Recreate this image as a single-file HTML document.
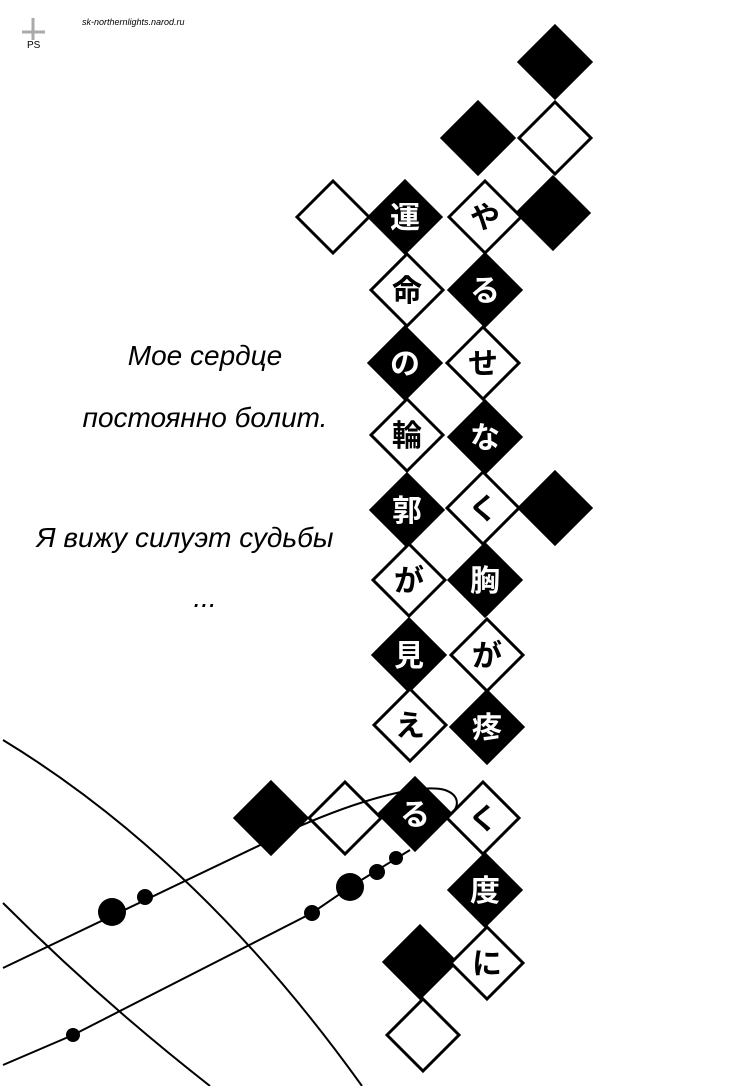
<!DOCTYPE html>
<html><head><meta charset="utf-8"><style>
html,body{margin:0;padding:0;background:#fff}
body{width:750px;height:1086px;position:relative;overflow:hidden}
.t{position:absolute;font-family:"Liberation Sans",sans-serif;font-style:italic;font-size:28px;color:#000;text-align:center;width:400px;left:5px;white-space:nowrap}
</style></head><body>
<svg width="750" height="1086" style="position:absolute;left:0;top:0" font-family="'Liberation Sans','Noto Sans CJK JP',sans-serif">
<g stroke="#000" stroke-width="3">
<path d="M555,26 l36,36 -36,36 -36,-36z" fill="#000"/>
<path d="M478,102 l36,36 -36,36 -36,-36z" fill="#000"/>
<path d="M555,102 l36,36 -36,36 -36,-36z" fill="#fff"/>
<path d="M553,177 l36,36 -36,36 -36,-36z" fill="#000"/>
<path d="M333,181 l36,36 -36,36 -36,-36z" fill="#fff"/>
<path d="M555,472 l36,36 -36,36 -36,-36z" fill="#000"/>

<path d="M405,181 l36,36 -36,36 -36,-36z" fill="#000"/>
<path d="M407,254 l36,36 -36,36 -36,-36z" fill="#fff"/>
<path d="M405,327 l36,36 -36,36 -36,-36z" fill="#000"/>
<path d="M407,399 l36,36 -36,36 -36,-36z" fill="#fff"/>
<path d="M407,474 l36,36 -36,36 -36,-36z" fill="#000"/>
<path d="M409,544 l36,36 -36,36 -36,-36z" fill="#fff"/>
<path d="M409,619 l36,36 -36,36 -36,-36z" fill="#000"/>
<path d="M410,689 l36,36 -36,36 -36,-36z" fill="#fff"/>
<path d="M415,778 l36,36 -36,36 -36,-36z" fill="#000"/>
<path d="M271,782 l36,36 -36,36 -36,-36z" fill="#000"/>
<path d="M345,782 l36,36 -36,36 -36,-36z" fill="#fff"/>
<path d="M420,926 l36,36 -36,36 -36,-36z" fill="#000"/>
<path d="M423,999 l36,36 -36,36 -36,-36z" fill="#fff"/>

<path d="M485,181 l36,36 -36,36 -36,-36z" fill="#fff"/>
<path d="M485,254 l36,36 -36,36 -36,-36z" fill="#000"/>
<path d="M483,327 l36,36 -36,36 -36,-36z" fill="#fff"/>
<path d="M485,401 l36,36 -36,36 -36,-36z" fill="#000"/>
<path d="M483,472 l36,36 -36,36 -36,-36z" fill="#fff"/>
<path d="M485,544 l36,36 -36,36 -36,-36z" fill="#000"/>
<path d="M487,619 l36,36 -36,36 -36,-36z" fill="#fff"/>
<path d="M487,691 l36,36 -36,36 -36,-36z" fill="#000"/>
<path d="M483,782 l36,36 -36,36 -36,-36z" fill="#fff"/>
<path d="M485,854 l36,36 -36,36 -36,-36z" fill="#000"/>
<path d="M487,927 l36,36 -36,36 -36,-36z" fill="#fff"/>
</g>
<g stroke="#000" stroke-width="2" fill="none">
<path d="M3,740 Q200,860 362,1086"/>
<path d="M3,903 Q100,1000 210,1086"/>
<path d="M3,968 L300,826 C360,800 420,783 445,790 C462,796 458,810 450,814"/>
<path d="M3,1065 L73,1035 L312,913 L350,887 L410,850"/>
</g>
<g fill="#000">
<circle cx="112" cy="912" r="14"/><circle cx="145" cy="897" r="8"/>
<circle cx="73" cy="1035" r="7"/><circle cx="312" cy="913" r="8"/>
<circle cx="350" cy="887" r="14"/><circle cx="377" cy="872" r="8"/><circle cx="396" cy="858" r="7"/>
</g>
<g font-size="30" font-weight="bold" text-anchor="middle">
<text x="405" y="228" fill="#fff">運</text>
<text x="407" y="301" fill="#000">命</text>
<text x="405" y="374" fill="#fff">の</text>
<text x="407" y="446" fill="#000">輪</text>
<text x="407" y="521" fill="#fff">郭</text>
<text x="409" y="591" fill="#000">が</text>
<text x="409" y="666" fill="#fff">見</text>
<text x="410" y="736" fill="#000">え</text>
<text x="415" y="825" fill="#fff">る</text>
<text x="485" y="228" fill="#000">や</text>
<text x="485" y="301" fill="#fff">る</text>
<text x="483" y="374" fill="#000">せ</text>
<text x="485" y="448" fill="#fff">な</text>
<text x="483" y="519" fill="#000">く</text>
<text x="485" y="591" fill="#fff">胸</text>
<text x="487" y="666" fill="#000">が</text>
<text x="487" y="738" fill="#fff">疼</text>
<text x="483" y="829" fill="#000">く</text>
<text x="485" y="901" fill="#fff">度</text>
<text x="487" y="974" fill="#000">に</text>
</g>
<g stroke="#aaa" stroke-width="3"><line x1="33" y1="18" x2="33" y2="40"/><line x1="22" y1="32" x2="45" y2="32"/></g>
<text x="27" y="48" font-size="10" font-family="'Liberation Sans',sans-serif">PS</text>
<text x="82" y="25" font-size="9" font-style="italic" font-family="'Liberation Sans',sans-serif">sk-northernlights.narod.ru</text>
</svg>
<div class="t" style="top:340px">Мое сердце</div>
<div class="t" style="top:402px">постоянно болит.</div>
<div class="t" style="top:522px;left:-15px">Я вижу силуэт судьбы</div>
<div class="t" style="top:582px">...</div>
</body></html>
